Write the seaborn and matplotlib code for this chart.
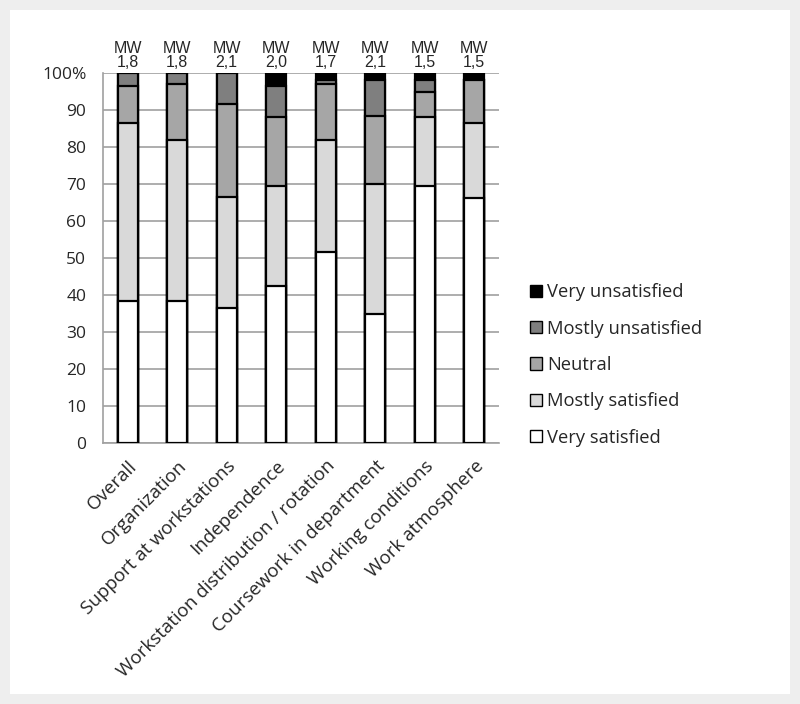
import numpy as np
import pandas as pd
import matplotlib
matplotlib.use('Agg')
import matplotlib.pyplot as plt
from matplotlib.patches import Rectangle, Patch
import seaborn as sns

# Data (percent per category)
categories = ['Overall', 'Organization', 'Support at workstations', 'Independence',
              'Workstation distribution / rotation', 'Coursework in department',
              'Working conditions', 'Work atmosphere']
mw_labels = ['1,8', '1,8', '2,1', '2,0', '1,7', '2,1', '1,5', '1,5']
levels = ['Very satisfied', 'Mostly satisfied', 'Neutral', 'Mostly unsatisfied', 'Very unsatisfied']
very_satisfied = [38.5, 38.5, 36.5, 42.5, 51.7, 34.9, 69.5, 66.2]
mostly_satisfied = [48.0, 43.3, 30.0, 27.0, 30.1, 35.1, 18.7, 20.3]
neutral = [10.0, 15.1, 25.2, 18.7, 15.1, 18.4, 6.8, 11.7]
mostly_unsatisfied = [3.5, 3.1, 8.3, 8.3, 1.3, 9.8, 3.2, 0.0]
very_unsatisfied = [0.0, 0.0, 0.0, 3.5, 1.8, 1.8, 1.8, 1.8]
colors = ['#ffffff', '#d9d9d9', '#a6a6a6', '#7f7f7f', '#000000']

df = pd.DataFrame({'category': categories,
                   'Very satisfied': very_satisfied,
                   'Mostly satisfied': mostly_satisfied,
                   'Neutral': neutral,
                   'Mostly unsatisfied': mostly_unsatisfied,
                   'Very unsatisfied': very_unsatisfied})
cum = df[levels].cumsum(axis=1)

sns.set_style('white')
plt.rcParams['font.family'] = ['Open Sans', 'DejaVu Sans']

fig = plt.figure(figsize=(8, 7.04), dpi=100, facecolor='#eeeeee')
fig.patches.append(Rectangle((10 / 800, 10 / 704), 780 / 800, 684 / 704,
                             transform=fig.transFigure, facecolor='white',
                             edgecolor='none', zorder=-10))
ax = fig.add_axes([103 / 800, 1 - 443 / 704, 396 / 800, 370 / 704])
ax.set_facecolor('none')
ax.set_zorder(2)

# draw stacked bars from the top level down so lower ones cover upper ones
for lev, col in reversed(list(zip(levels, colors))):
    sns.barplot(x=df['category'], y=cum[lev], color=col, width=0.4,
                edgecolor='black', linewidth=1.6, saturation=1, ax=ax, zorder=3)

ax.set_ylim(0, 100)
ax.set_xlim(-0.5, len(categories) - 0.5)
ax.set_yticks(np.arange(0, 101, 10))
ax.set_yticklabels([str(v) for v in range(0, 100, 10)] + ['100%'], fontsize=12.5)
ax.yaxis.grid(True, color='#a0a0a0', linewidth=1.2, zorder=0)
ax.set_axisbelow(True)
ax.set_xlabel('')
ax.set_ylabel('')

# x ticks between categories, labels at bars
ax.set_xticks(np.arange(-0.5, len(categories), 1.0))
ax.set_xticklabels([])
ax.set_xticks(np.arange(len(categories)), minor=True)
ax.set_xticklabels(categories, minor=True, rotation=45, ha='right',
                   rotation_mode='anchor', fontsize=13.5)
ax.tick_params(axis='x', which='major', direction='out', length=6, color='#a0a0a0', width=1.2)
ax.tick_params(axis='x', which='minor', length=0, pad=10)
ax.tick_params(axis='y', direction='out', length=6, color='#a0a0a0', width=1.2, pad=6)

for side in ['top', 'right']:
    ax.spines[side].set_visible(False)
for side in ['left', 'bottom']:
    ax.spines[side].set_color('#a0a0a0')
    ax.spines[side].set_linewidth(1.2)

for i, mw in enumerate(mw_labels):
    ax.text(i, 100.8, 'MW\n' + mw, ha='center', va='bottom', fontsize=11.5,
            family=['Liberation Sans', 'DejaVu Sans'], linespacing=0.9)

handles = [Patch(facecolor=c, edgecolor='black', linewidth=1, label=l)
           for l, c in zip(levels, colors)]
fig.legend(handles=handles[::-1], loc='upper left', bbox_to_anchor=(523 / 800, 1 - 276 / 704),
           frameon=False, fontsize=13.2, handlelength=0.65, handleheight=0.65,
           handletextpad=0.25, labelspacing=1.0, borderaxespad=0)

fig.savefig('out.png', dpi=100, facecolor=fig.get_facecolor())
